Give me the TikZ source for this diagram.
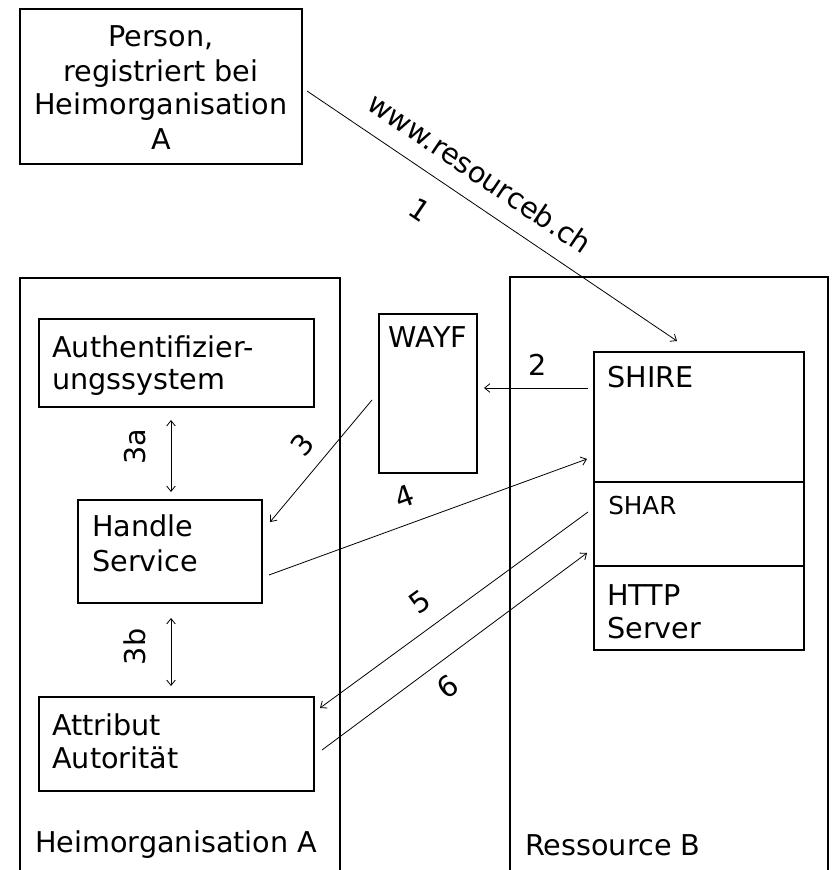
\documentclass[tikz,border=0pt]{standalone}
\usepackage{fontspec}
\setmainfont{DejaVu Sans}
\usetikzlibrary{arrows.meta,fit}

\tikzset{
  box/.style={draw, line width=1pt, inner sep=0pt},
  txt/.style={anchor=base west, inner sep=0pt, font=\fontsize{21.5pt}{25.5pt}\selectfont},
  ctxt/.style={anchor=base, inner sep=0pt, font=\fontsize{21.5pt}{25.5pt}\selectfont},
  num/.style={inner sep=0pt, font=\fontsize{21.5pt}{25.5pt}\selectfont},
  flow/.style={line width=0.6pt, -{Straight Barb[length=4pt,width=6.5pt]}},
  both/.style={line width=0.6pt, {Straight Barb[length=4pt,width=6.5pt]}-{Straight Barb[length=4pt,width=6.5pt]}}
}

\begin{document}
\begin{tikzpicture}[x=0.75pt,y=-0.75pt]
\useasboundingbox (0,0) rectangle (831,870);
\clip (0,0) rectangle (831,870);
\fill[white] (0,0) rectangle (831,870);

% the user
\node[box, fit={(20,9) (302,164)}] (person) {};
\node[ctxt] (p1) at (161,47)  {Person,};
\node[ctxt] (p2) at (161,82)  {registriert bei};
\node[ctxt] (p3) at (161,115) {Heimorganisation};
\node[ctxt] (p4) at (161,150) {A};

% home organisation
\node[box, fit={(20,278) (340,900)}] (heim) {};
\node[txt] (heimlbl) at (35,852) {Heimorganisation A};

\node[box, fit={(39,319) (314,407)}] (auth) {};
\node[txt] (auth1) at (52,357) {Authentifizier-};
\node[txt] (auth2) at (52,389) {ungssystem};

\node[box, fit={(78,500) (262,603)}] (handle) {};
\node[txt] (handle1) at (92,536) {Handle};
\node[txt] (handle2) at (92,571) {Service};

\node[box, fit={(39,697) (314,791)}] (attr) {};
\node[txt] (attr1) at (52,735) {Attribut};
\node[txt] (attr2) at (52,768) {Autorität};

% where are you from
\node[box, fit={(379,314) (477,473)}] (wayf) {};
\node[ctxt] (wayflbl) at (428,347) {WAYF};

% resource
\node[box, fit={(510,277) (828,900)}] (ress) {};
\node[txt] (resslbl) at (525,855) {Ressource B};

\node[box, fit={(594,352) (804,482)}] (shire) {};
\node[txt] (shirelbl) at (607,387) {SHIRE};
\node[box, fit={(594,482) (804,566)}] (shar) {};
\node[txt, font=\fontsize{18.5pt}{22pt}\selectfont] (sharlbl) at (608,514) {SHAR};
\node[box, fit={(594,566) (804,650)}] (http) {};
\node[txt] (http1) at (607,605) {HTTP};
\node[txt] (http2) at (607,638) {Server};

% connector ends
\coordinate (s1) at (307,91);  \coordinate (e1) at (677,341);
\coordinate (s2) at (588,388); \coordinate (e2) at (484,388);
\coordinate (s3) at (372,400); \coordinate (e3) at (270,522);
\coordinate (s4) at (269,575); \coordinate (e4) at (587,459);
\coordinate (s5) at (588,512); \coordinate (e5) at (320,708);
\coordinate (s6) at (322,750); \coordinate (e6) at (587,553);
\coordinate (a3a) at (171,420); \coordinate (b3a) at (171,492);
\coordinate (a3b) at (171,618); \coordinate (b3b) at (171,686);

\draw[flow] (s1) -- (e1);
\draw[flow] (s2) -- (e2);
\draw[flow] (s3) -- (e3);
\draw[flow] (s4) -- (e4);
\draw[flow] (s5) -- (e5);
\draw[flow] (s6) -- (e6);
\draw[both] (a3a) -- (b3a);
\draw[both] (a3b) -- (b3b);

% step labels
\node[num, rotate=-34] (url) at (480,173) {www.resourceb.ch};
\node[num, rotate=-34] (n1) at (420,210) {1};
\node[num] (n2) at (538,365) {2};
\node[num, rotate=50] (n3) at (302,445) {3};
\node[num, rotate=20] (n4) at (404,497) {4};
\node[num, rotate=36] (n5) at (420,602) {5};
\node[num, rotate=36] (n6) at (448,687) {6};
\node[num, rotate=90] (n3a) at (135,447) {3a};
\node[num, rotate=90] (n3b) at (135,647) {3b};
\end{tikzpicture}
\end{document}
